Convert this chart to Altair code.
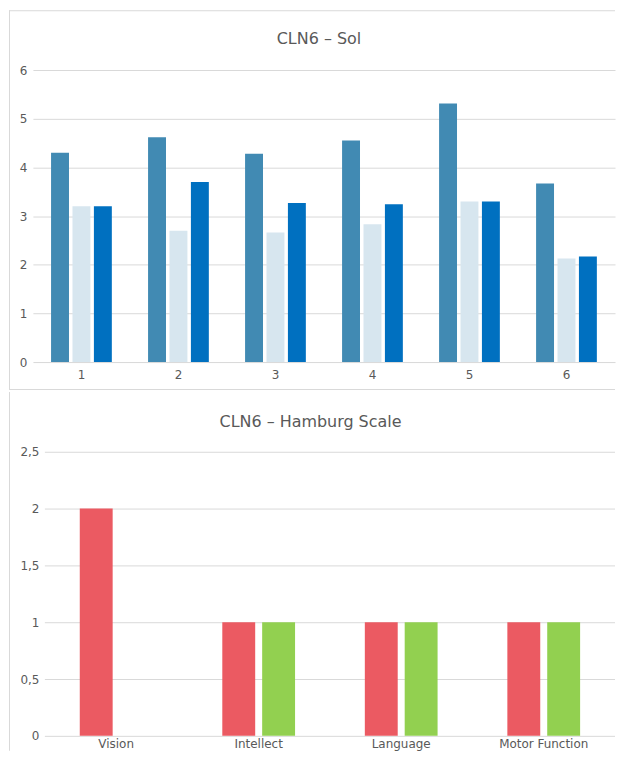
import altair as alt
import pandas as pd

# ---------------- data ----------------
sol_groups = ["1", "2", "3", "4", "5", "6"]
sol_series = ["Serie 1", "Serie 2", "Serie 3"]
sol_s1 = [4.30, 4.62, 4.28, 4.55, 5.31, 3.67]
sol_s2 = [3.20, 2.70, 2.66, 2.83, 3.30, 2.13]
sol_s3 = [3.20, 3.70, 3.27, 3.24, 3.30, 2.17]
sol_colors = ["#418AB3", "#D7E6EF", "#0070C0"]
sol_ticks = [0, 1, 2, 3, 4, 5, 6]
sol_title = "CLN6 – Sol"

ham_categories = ["Vision", "Intellect", "Language", "Motor Function"]
ham_series = ["Reihe 1", "Reihe 2"]
ham_s1 = [2, 1, 1, 1]
ham_s2 = [0, 1, 1, 1]
ham_colors = ["#EB5A62", "#92D050"]
ham_ticks = [0, 0.5, 1, 1.5, 2, 2.5]
ham_title = "CLN6 – Hamburg Scale"

# ---------------- tables ----------------
sol_rows = []
for s_name, vals in zip(sol_series, [sol_s1, sol_s2, sol_s3]):
    for g, v in zip(sol_groups, vals):
        sol_rows.append({"group": g, "series": s_name, "value": v})
sol_df = pd.DataFrame(sol_rows)

ham_rows = []
for s_name, vals in zip(ham_series, [ham_s1, ham_s2]):
    for c, v in zip(ham_categories, vals):
        ham_rows.append({"category": c, "series": s_name, "value": v})
ham_df = pd.DataFrame(ham_rows)
ham_grid_df = pd.DataFrame({"value": ham_ticks})

TEXT = "#595959"
GRID = "#D9D9D9"
BORDER = "#D9D9D9"
FONT = "DejaVu Sans"

one = pd.DataFrame({"k": [0]})


def hline(y, x1, x2):
    # 1px card border drawn as a thin filled rect (crisp, exact bounds)
    return alt.Chart(one).mark_rect(color=BORDER).encode(
        x=alt.value(x1), x2=alt.value(x2), y=alt.value(y), y2=alt.value(y + 1))


def vline(x, y1, y2):
    return alt.Chart(one).mark_rect(color=BORDER).encode(
        x=alt.value(x), x2=alt.value(x + 1), y=alt.value(y1), y2=alt.value(y2))


def title_text(t, x, y):
    return alt.Chart(pd.DataFrame({"t": [t]})).mark_text(
        fontSize=16, color=TEXT, baseline="alphabetic", align="center", font=FONT
    ).encode(text="t:N", x=alt.value(x), y=alt.value(y))


PLOT_W = 584

# ---------------- top chart ----------------
TOP_H = 293
sol_bars = alt.Chart(sol_df).mark_bar().encode(
    x=alt.X("group:N", sort=sol_groups, title=None,
            scale=alt.Scale(paddingInner=0.3735, paddingOuter=0.187),
            axis=alt.Axis(labelAngle=0, ticks=False, domain=False, grid=False,
                          labelPadding=7, labelFontSize=12, labelColor=TEXT, labelFont=FONT)),
    xOffset=alt.XOffset("series:N", sort=sol_series,
                        scale=alt.Scale(paddingInner=0.163, paddingOuter=0)),
    y=alt.Y("value:Q", title=None, scale=alt.Scale(domain=[0, 6], nice=False),
            axis=alt.Axis(values=sol_ticks, ticks=False, domain=False, grid=True,
                          gridColor=GRID, gridWidth=1, labelPadding=6, labelFontSize=12,
                          labelColor=TEXT, labelFont=FONT)),
    color=alt.Color("series:N", scale=alt.Scale(domain=sol_series, range=sol_colors), legend=None),
)

top = alt.layer(
    sol_bars,
    title_text(sol_title, 287, -26),
    hline(-60, -24, PLOT_W),
    vline(-24, -60, 321),
    hline(320, -24, PLOT_W),
).properties(width=PLOT_W, height=TOP_H)

# ---------------- bottom chart ----------------
BOT_H = 285
X0 = 12  # bottom plot starts 12px to the right of the top one
ham_y_axis = alt.Axis(values=ham_ticks, ticks=False, domain=False, grid=False,
                      offset=-X0, labelPadding=6, labelFontSize=12,
                      labelColor=TEXT, labelFont=FONT,
                      labelExpr="replace(toString(datum.value), '.', ',')")
ham_y_scale = alt.Scale(domain=[0, 2.5], nice=False)

ham_grid = alt.Chart(ham_grid_df).mark_rule(color=GRID, strokeWidth=1, yOffset=0.5).encode(
    y=alt.Y("value:Q", title=None, scale=ham_y_scale, axis=ham_y_axis),
    x=alt.value(X0), x2=alt.value(PLOT_W),
)
ham_bars = alt.Chart(ham_df).mark_bar().encode(
    x=alt.X("category:N", sort=ham_categories, title=None,
            scale=alt.Scale(range=[X0, PLOT_W], paddingInner=0.4895, paddingOuter=0.2448),
            axis=alt.Axis(labelAngle=0, ticks=False, domain=False, grid=False,
                          labelPadding=3, labelFontSize=12, labelColor=TEXT, labelFont=FONT)),
    xOffset=alt.XOffset("series:N", sort=ham_series,
                        scale=alt.Scale(paddingInner=0.175, paddingOuter=0)),
    y=alt.Y("value:Q", title=None, scale=ham_y_scale, axis=ham_y_axis),
    color=alt.Color("series:N", scale=alt.Scale(domain=ham_series, range=ham_colors), legend=None),
)

bottom = alt.layer(
    ham_grid,
    ham_bars,
    title_text(ham_title, X0 + 266.5, -25),
    vline(-24, -60, 300),
).properties(width=PLOT_W, height=BOT_H)

chart = alt.concat(
    top, bottom, columns=1, spacing=0
).resolve_scale(
    color="independent", xOffset="independent"
).properties(
    padding=0
).configure(
    font=FONT
).configure_view(
    stroke="transparent"
)

chart.save("out.html", embed_options={"renderer": "svg", "actions": False})
